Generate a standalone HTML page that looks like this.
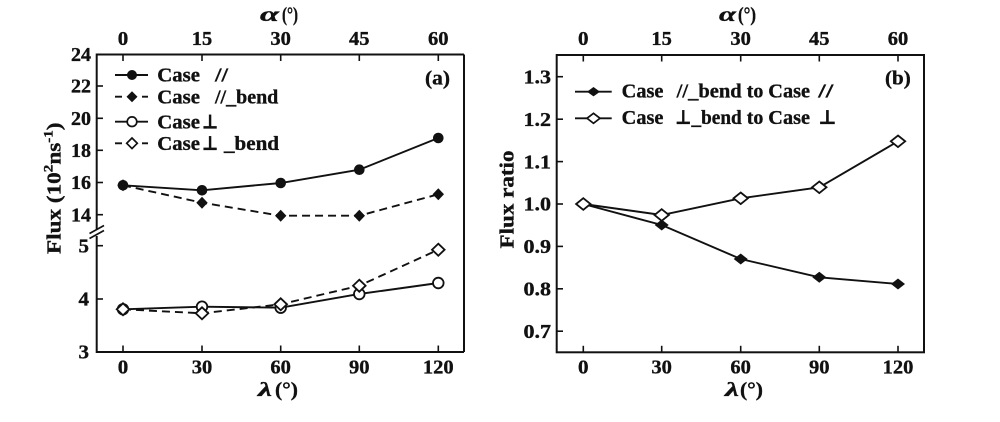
<!DOCTYPE html>
<html><head><meta charset="utf-8"><style>
html,body{margin:0;padding:0;background:#fff;}
svg{display:block;}
text{font-family:"Liberation Serif","DejaVu Serif",serif;font-weight:bold;fill:#111;stroke:#111;stroke-width:0.35px;}
.t{font-size:20px;}
.l{font-size:20px;}
</style></head><body>
<svg width="1000" height="422" viewBox="0 0 1000 422" xmlns="http://www.w3.org/2000/svg">
<rect width="1000" height="422" fill="#fff"/>

<!-- ===== LEFT PANEL ===== -->
<g stroke="#111" stroke-width="2" fill="none">
  <line x1="96.7" y1="54.5" x2="464" y2="54.5"/>
  <line x1="96.7" y1="352" x2="464" y2="352"/>
  <line x1="464" y1="54.5" x2="464" y2="352"/>
  <line x1="96.7" y1="53.5" x2="96.7" y2="229"/>
  <line x1="96.7" y1="236" x2="96.7" y2="353"/>
</g>
<g stroke="#111" stroke-width="1.6">
  <line x1="89.5" y1="233.5" x2="104" y2="225.5"/>
  <line x1="89.5" y1="238.5" x2="104" y2="230.5"/>
</g>
<!-- ticks -->
<g stroke="#111" stroke-width="1.6">
  <line x1="123" y1="352" x2="123" y2="345.5"/>
  <line x1="202" y1="352" x2="202" y2="345.5"/>
  <line x1="280.7" y1="352" x2="280.7" y2="345.5"/>
  <line x1="359.3" y1="352" x2="359.3" y2="345.5"/>
  <line x1="438.3" y1="352" x2="438.3" y2="345.5"/>
  <line x1="123" y1="54.5" x2="123" y2="61"/>
  <line x1="202" y1="54.5" x2="202" y2="61"/>
  <line x1="280.7" y1="54.5" x2="280.7" y2="61"/>
  <line x1="359.3" y1="54.5" x2="359.3" y2="61"/>
  <line x1="438.3" y1="54.5" x2="438.3" y2="61"/>
  <line x1="96.7" y1="86" x2="103" y2="86"/>
  <line x1="96.7" y1="118.3" x2="103" y2="118.3"/>
  <line x1="96.7" y1="150.3" x2="103" y2="150.3"/>
  <line x1="96.7" y1="182.5" x2="103" y2="182.5"/>
  <line x1="96.7" y1="214.7" x2="103" y2="214.7"/>
  <line x1="96.7" y1="245.7" x2="103" y2="245.7"/>
  <line x1="96.7" y1="299" x2="103" y2="299"/>
</g>
<!-- y tick labels -->
<g class="t" text-anchor="end">
  <text x="91" y="61" textLength="20" lengthAdjust="spacingAndGlyphs">24</text>
  <text x="91" y="92.7" textLength="20" lengthAdjust="spacingAndGlyphs">22</text>
  <text x="91" y="125" textLength="20" lengthAdjust="spacingAndGlyphs">20</text>
  <text x="91" y="157" textLength="20" lengthAdjust="spacingAndGlyphs">18</text>
  <text x="91" y="189.2" textLength="20" lengthAdjust="spacingAndGlyphs">16</text>
  <text x="91" y="221.4" textLength="20" lengthAdjust="spacingAndGlyphs">14</text>
  <text x="89" y="252.4" textLength="10.5" lengthAdjust="spacingAndGlyphs">5</text>
  <text x="89" y="305.7" textLength="10.5" lengthAdjust="spacingAndGlyphs">4</text>
  <text x="89" y="358.7" textLength="10.5" lengthAdjust="spacingAndGlyphs">3</text>
</g>
<!-- x tick labels -->
<g class="t" text-anchor="middle">
  <text x="123" y="373.5" textLength="10.5" lengthAdjust="spacingAndGlyphs">0</text>
  <text x="202" y="373.5" textLength="20.5" lengthAdjust="spacingAndGlyphs">30</text>
  <text x="280.7" y="373.5" textLength="20.5" lengthAdjust="spacingAndGlyphs">60</text>
  <text x="359.3" y="373.5" textLength="20.5" lengthAdjust="spacingAndGlyphs">90</text>
  <text x="438.3" y="373.5" textLength="30.7" lengthAdjust="spacingAndGlyphs">120</text>
  <text x="123" y="45" textLength="10.5" lengthAdjust="spacingAndGlyphs">0</text>
  <text x="202" y="45" textLength="20.5" lengthAdjust="spacingAndGlyphs">15</text>
  <text x="280.7" y="45" textLength="20.5" lengthAdjust="spacingAndGlyphs">30</text>
  <text x="359.3" y="45" textLength="20.5" lengthAdjust="spacingAndGlyphs">45</text>
  <text x="438.3" y="45" textLength="20.5" lengthAdjust="spacingAndGlyphs">60</text>
</g>
<!-- axis titles -->
<text class="l" x="260" y="21" font-style="italic" textLength="19" lengthAdjust="spacingAndGlyphs">α</text>
<text class="l" x="282" y="21" textLength="16" lengthAdjust="spacingAndGlyphs">(°)</text>
<text class="l" x="258" y="396" font-style="italic" textLength="14" lengthAdjust="spacingAndGlyphs">λ</text>
<text class="l" x="275" y="396" textLength="23" lengthAdjust="spacingAndGlyphs">(°)</text>
<g transform="translate(60.5,254) rotate(-90) scale(1.16,1)">
  <text x="0" y="0" style="font-size:20px">Flux (10<tspan dy="-8" style="font-size:13px">2</tspan><tspan dy="8">ns</tspan><tspan dy="-8" style="font-size:13px">-1</tspan><tspan dy="8">)</tspan></text>
</g>
<text class="l" x="450" y="84.5" text-anchor="end" textLength="25" lengthAdjust="spacingAndGlyphs">(a)</text>

<!-- series -->
<g fill="none" stroke="#111" stroke-width="1.9">
  <polyline points="123,185.3 202,190.3 280.7,183 359.3,169.7 438.3,138"/>
  <polyline points="123,185.3 202,202.7 280.7,215.7 359.3,215.7 438.3,194.3" stroke-dasharray="8,5"/>
  <polyline points="123,309.3 202,306.7 280.7,307.7 359.3,294 438.3,283"/>
  <polyline points="123,309.3 202,313.3 280.7,304.3 359.3,285.7 438.3,249.7" stroke-dasharray="8,5"/>
</g>
<g fill="#111">
  <circle cx="123" cy="185.3" r="5.3"/><circle cx="202" cy="190.3" r="5.3"/><circle cx="280.7" cy="183" r="5.3"/><circle cx="359.3" cy="169.7" r="5.3"/><circle cx="438.3" cy="138" r="5.3"/>
  <path d="M123,179.3L128.7,185.3L123,191.3L117.3,185.3Z"/>
  <path d="M202,196.7L207.7,202.7L202,208.7L196.3,202.7Z"/>
  <path d="M280.7,209.7L286.4,215.7L280.7,221.7L275,215.7Z"/>
  <path d="M359.3,209.7L365,215.7L359.3,221.7L353.6,215.7Z"/>
  <path d="M438.3,188.3L444,194.3L438.3,200.3L432.6,194.3Z"/>
</g>
<g fill="#fff" stroke="#111" stroke-width="1.8">
  <circle cx="123" cy="309.3" r="5.3"/><circle cx="202" cy="306.7" r="5.3"/><circle cx="280.7" cy="307.7" r="5.3"/><circle cx="359.3" cy="294" r="5.3"/><circle cx="438.3" cy="283" r="5.3"/>
  <path d="M123,303.3L129.3,309.3L123,315.3L116.7,309.3Z"/>
  <path d="M202,307.3L208.3,313.3L202,319.3L195.7,313.3Z"/>
  <path d="M280.7,298.3L287,304.3L280.7,310.3L274.4,304.3Z"/>
  <path d="M359.3,279.7L365.6,285.7L359.3,291.7L353,285.7Z"/>
  <path d="M438.3,243.7L444.6,249.7L438.3,255.7L432,249.7Z"/>
</g>

<!-- legend left -->
<g stroke="#111" stroke-width="1.9" fill="none">
  <line x1="115" y1="75" x2="148" y2="75"/>
  <line x1="115" y1="96.7" x2="122" y2="96.7"/><line x1="142" y1="96.7" x2="148" y2="96.7"/>
  <line x1="115" y1="121.7" x2="148" y2="121.7"/>
  <line x1="115" y1="143.3" x2="122" y2="143.3"/><line x1="142" y1="143.3" x2="148" y2="143.3"/>
</g>
<circle cx="132" cy="75" r="5" fill="#111"/>
<path d="M132,91.2L137.5,96.7L132,102.2L126.5,96.7Z" fill="#111"/>
<circle cx="132" cy="121.7" r="4.8" fill="#fff" stroke="#111" stroke-width="1.7"/>
<path d="M132,138L137.3,143.3L132,148.6L126.7,143.3Z" fill="#fff" stroke="#111" stroke-width="1.7"/>
<g class="l">
  <text x="157.3" y="81.7" textLength="42.7" lengthAdjust="spacingAndGlyphs">Case</text>
  <text x="215" y="81.7" textLength="13" lengthAdjust="spacingAndGlyphs">//</text>
  <text x="157.3" y="103.3" textLength="42.7" lengthAdjust="spacingAndGlyphs">Case</text>
  <text x="215" y="103.3" textLength="63.3" lengthAdjust="spacingAndGlyphs">//_bend</text>
  <text x="157.3" y="128.3" textLength="42.7" lengthAdjust="spacingAndGlyphs">Case</text>
  <text x="201.7" y="128.3" textLength="16.7" lengthAdjust="spacingAndGlyphs">⊥</text>
  <text x="157.3" y="150" textLength="42.7" lengthAdjust="spacingAndGlyphs">Case</text>
  <text x="201.7" y="150" textLength="16.7" lengthAdjust="spacingAndGlyphs">⊥</text>
  <text x="224" y="150" textLength="55" lengthAdjust="spacingAndGlyphs">_bend</text>
</g>

<!-- ===== RIGHT PANEL ===== -->
<g stroke="#111" stroke-width="2" fill="none">
  <rect x="556.7" y="55" width="367.3" height="297.3"/>
</g>
<g stroke="#111" stroke-width="1.6">
  <line x1="583.3" y1="352.3" x2="583.3" y2="345.8"/>
  <line x1="661.7" y1="352.3" x2="661.7" y2="345.8"/>
  <line x1="740.7" y1="352.3" x2="740.7" y2="345.8"/>
  <line x1="819.3" y1="352.3" x2="819.3" y2="345.8"/>
  <line x1="898" y1="352.3" x2="898" y2="345.8"/>
  <line x1="583.3" y1="55" x2="583.3" y2="61.5"/>
  <line x1="661.7" y1="55" x2="661.7" y2="61.5"/>
  <line x1="740.7" y1="55" x2="740.7" y2="61.5"/>
  <line x1="819.3" y1="55" x2="819.3" y2="61.5"/>
  <line x1="898" y1="55" x2="898" y2="61.5"/>
  <line x1="556.7" y1="76.7" x2="563" y2="76.7"/>
  <line x1="556.7" y1="119.2" x2="563" y2="119.2"/>
  <line x1="556.7" y1="161.6" x2="563" y2="161.6"/>
  <line x1="556.7" y1="204" x2="563" y2="204"/>
  <line x1="556.7" y1="246.4" x2="563" y2="246.4"/>
  <line x1="556.7" y1="288.8" x2="563" y2="288.8"/>
  <line x1="556.7" y1="331.2" x2="563" y2="331.2"/>
</g>
<g class="t" text-anchor="end">
  <text x="551" y="83.4" textLength="27.5" lengthAdjust="spacingAndGlyphs">1.3</text>
  <text x="551" y="125.9" textLength="27.5" lengthAdjust="spacingAndGlyphs">1.2</text>
  <text x="551" y="168.3" textLength="27.5" lengthAdjust="spacingAndGlyphs">1.1</text>
  <text x="551" y="210.7" textLength="27.5" lengthAdjust="spacingAndGlyphs">1.0</text>
  <text x="551" y="253.1" textLength="27.5" lengthAdjust="spacingAndGlyphs">0.9</text>
  <text x="551" y="295.5" textLength="27.5" lengthAdjust="spacingAndGlyphs">0.8</text>
  <text x="551" y="337.9" textLength="27.5" lengthAdjust="spacingAndGlyphs">0.7</text>
</g>
<g class="t" text-anchor="middle">
  <text x="583.3" y="373.5" textLength="10.5" lengthAdjust="spacingAndGlyphs">0</text>
  <text x="661.7" y="373.5" textLength="20.5" lengthAdjust="spacingAndGlyphs">30</text>
  <text x="740.7" y="373.5" textLength="20.5" lengthAdjust="spacingAndGlyphs">60</text>
  <text x="819.3" y="373.5" textLength="20.5" lengthAdjust="spacingAndGlyphs">90</text>
  <text x="898" y="373.5" textLength="30.7" lengthAdjust="spacingAndGlyphs">120</text>
  <text x="583.3" y="45" textLength="10.5" lengthAdjust="spacingAndGlyphs">0</text>
  <text x="661.7" y="45" textLength="20.5" lengthAdjust="spacingAndGlyphs">15</text>
  <text x="740.7" y="45" textLength="20.5" lengthAdjust="spacingAndGlyphs">30</text>
  <text x="819.3" y="45" textLength="20.5" lengthAdjust="spacingAndGlyphs">45</text>
  <text x="898" y="45" textLength="20.5" lengthAdjust="spacingAndGlyphs">60</text>
</g>
<text class="l" x="719" y="21" font-style="italic" textLength="17" lengthAdjust="spacingAndGlyphs">α</text>
<text class="l" x="738" y="21" textLength="18" lengthAdjust="spacingAndGlyphs">(°)</text>
<text class="l" x="725" y="396" font-style="italic" textLength="14" lengthAdjust="spacingAndGlyphs">λ</text>
<text class="l" x="740" y="396" textLength="23" lengthAdjust="spacingAndGlyphs">(°)</text>
<g transform="translate(513.5,248.5) rotate(-90)">
  <text x="0" y="0" style="font-size:20px" textLength="98" lengthAdjust="spacingAndGlyphs">Flux ratio</text>
</g>
<text class="l" x="910.7" y="84.5" text-anchor="end" textLength="25.7" lengthAdjust="spacingAndGlyphs">(b)</text>

<g fill="none" stroke="#111" stroke-width="1.9">
  <polyline points="583.3,204 661.7,225 740.7,259 819.3,277.3 898,284"/>
  <polyline points="583.3,204 661.7,215 740.7,198.3 819.3,187.3 898,141.3"/>
</g>
<g fill="#111">
  <path d="M583.3,198.5L590.3,204L583.3,209.5L576.3,204Z"/>
  <path d="M661.7,219.5L668.7,225L661.7,230.5L654.7,225Z"/>
  <path d="M740.7,253.5L747.7,259L740.7,264.5L733.7,259Z"/>
  <path d="M819.3,271.8L826.3,277.3L819.3,282.8L812.3,277.3Z"/>
  <path d="M898,278.5L905,284L898,289.5L891,284Z"/>
</g>
<g fill="#fff" stroke="#111" stroke-width="1.8">
  <path d="M583.3,198.2L590.5,204L583.3,209.8L576.1,204Z"/>
  <path d="M661.7,209.2L668.9,215L661.7,220.8L654.5,215Z"/>
  <path d="M740.7,192.5L747.9,198.3L740.7,204.1L733.5,198.3Z"/>
  <path d="M819.3,181.5L826.5,187.3L819.3,193.1L812.1,187.3Z"/>
  <path d="M898,135.5L905.2,141.3L898,147.1L890.8,141.3Z"/>
</g>

<!-- legend right -->
<g stroke="#111" stroke-width="1.9">
  <line x1="575" y1="91.7" x2="611.7" y2="91.7"/>
  <line x1="575" y1="118.3" x2="611.7" y2="118.3"/>
</g>
<path d="M593.5,87L600,91.7L593.5,96.4L587,91.7Z" fill="#111"/>
<path d="M593.5,113.3L600,118.3L593.5,123.3L587,118.3Z" fill="#fff" stroke="#111" stroke-width="1.7"/>
<g class="l">
  <text x="621.7" y="97.3" textLength="41.7" lengthAdjust="spacingAndGlyphs">Case</text>
  <text x="676.7" y="97.3" textLength="65" lengthAdjust="spacingAndGlyphs">//_bend</text>
  <text x="746.7" y="97.3" textLength="16.6" lengthAdjust="spacingAndGlyphs">to</text>
  <text x="768.3" y="97.3" textLength="41.7" lengthAdjust="spacingAndGlyphs">Case</text>
  <text x="818.3" y="97.3" textLength="15" lengthAdjust="spacingAndGlyphs">//</text>
  <text x="621.7" y="124" textLength="41.7" lengthAdjust="spacingAndGlyphs">Case</text>
  <text x="675" y="124" textLength="16.7" lengthAdjust="spacingAndGlyphs">⊥</text>
  <text x="691.5" y="124" textLength="50.2" lengthAdjust="spacingAndGlyphs">_bend</text>
  <text x="746.7" y="124" textLength="16.6" lengthAdjust="spacingAndGlyphs">to</text>
  <text x="768.3" y="124" textLength="41.7" lengthAdjust="spacingAndGlyphs">Case</text>
  <text x="818.3" y="124" textLength="18.4" lengthAdjust="spacingAndGlyphs">⊥</text>
</g>
</svg>
</body></html>
